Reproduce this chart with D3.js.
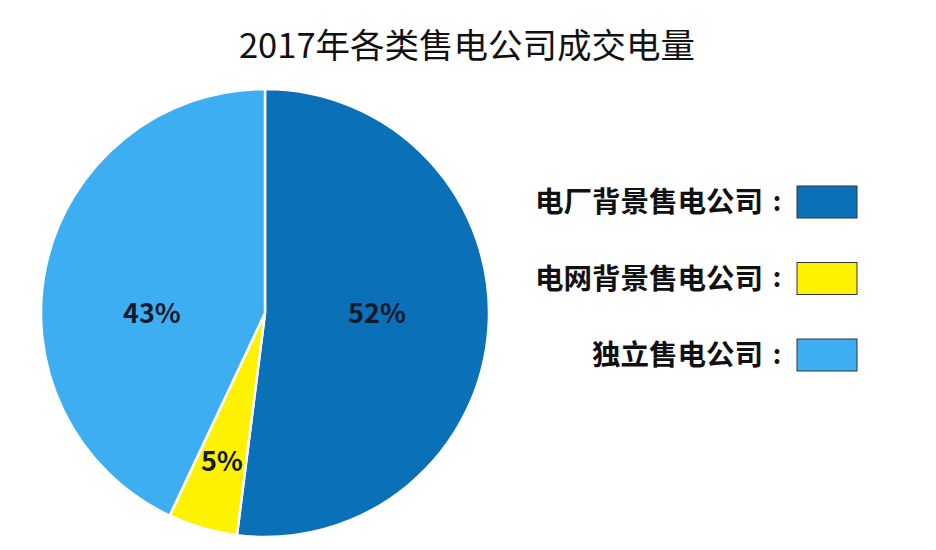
<!DOCTYPE html>
<html>
  <head>
    <meta charset="utf-8" />
    <title>2017年各类售电公司成交电量</title>
    <script src="https://d3js.org/d3.v7.min.js"></script>
    <style>
        body {
            margin: 0;
            background: #fff;
        }
        text {
            font-family: "Noto Sans CJK SC", "Noto Sans", sans-serif;
        }
    </style>
  </head>
  <body>
    <svg id="pie"></svg>

    <script>
        // data
        var categories = ["电厂背景售电公司", "电网背景售电公司", "独立售电公司"];
        var shares = [52, 5, 43];
        var colors = ["#0a70b8", "#fff200", "#3eaef2"];
        var title = "2017年各类售电公司成交电量";

        var width = 936;
        var height = 550;
        var cx = 265, cy = 313, radius = 224;

        var svg = d3.select("#pie")
            .attr("width", width)
            .attr("height", height);

        svg.append("text")
            .attr("x", 467)
            .attr("y", 58)
            .attr("text-anchor", "middle")
            .attr("font-size", 34.5)
            .attr("fill", "#111")
            .text(title);

        var pie = d3.pie().sort(null).value(function(d) { return d; });
        var arcs = pie(shares);

        var arc = d3.arc().innerRadius(0).outerRadius(radius);

        var g = svg.append("g")
            .attr("transform", "translate(" + cx + "," + cy + ")");

        g.selectAll("path")
            .data(arcs)
            .enter().append("path")
            .attr("d", arc)
            .attr("fill", function(d, i) { return colors[i]; })
            .attr("stroke", "#fff")
            .attr("stroke-width", 2.5);

        // big slices: label on the horizontal midline, small ones further out
        function labelPos(d) {
            var mid = (d.startAngle + d.endAngle) / 2;
            if (d.endAngle - d.startAngle > 0.4 * Math.PI) {
                return [Math.sin(mid) > 0 ? radius * 0.5 : -radius * 0.505, 0];
            }
            var r = radius * 0.69;
            return [Math.sin(mid) * r, -Math.cos(mid) * r];
        }

        g.selectAll(".pct")
            .data(arcs)
            .enter().append("text")
            .attr("class", "pct")
            .attr("x", function(d) { return labelPos(d)[0]; })
            .attr("y", function(d) { return labelPos(d)[1]; })
            .attr("dy", "0.36em")
            .attr("text-anchor", "middle")
            .attr("font-size", 27)
            .attr("font-weight", "bold")
            .attr("fill", "#101a2a")
            .text(function(d) { return d.data + "%"; });

        // legend
        var ly = d3.scalePoint()
            .domain(categories)
            .range([202, 355]);

        var legend = svg.selectAll(".legend")
            .data(categories)
            .enter().append("g")
            .attr("class", "legend")
            .attr("transform", function(d) { return "translate(0," + ly(d) + ")"; });

        legend.append("text")
            .attr("x", 763)
            .attr("dy", "0.36em")
            .attr("text-anchor", "end")
            .attr("font-size", 28.5)
            .attr("font-weight", "bold")
            .attr("fill", "#111")
            .text(function(d) { return d; });

        legend.append("text")
            .attr("x", 777)
            .attr("dy", "0.33em")
            .attr("text-anchor", "middle")
            .attr("font-size", 26)
            .attr("font-weight", "bold")
            .attr("fill", "#111")
            .text(":");

        legend.append("rect")
            .attr("x", 797)
            .attr("y", -16)
            .attr("width", 60)
            .attr("height", 32)
            .attr("fill", function(d, i) { return colors[i]; })
            .attr("stroke", "#333")
            .attr("stroke-width", 1);
    </script>
  </body>
</html>
